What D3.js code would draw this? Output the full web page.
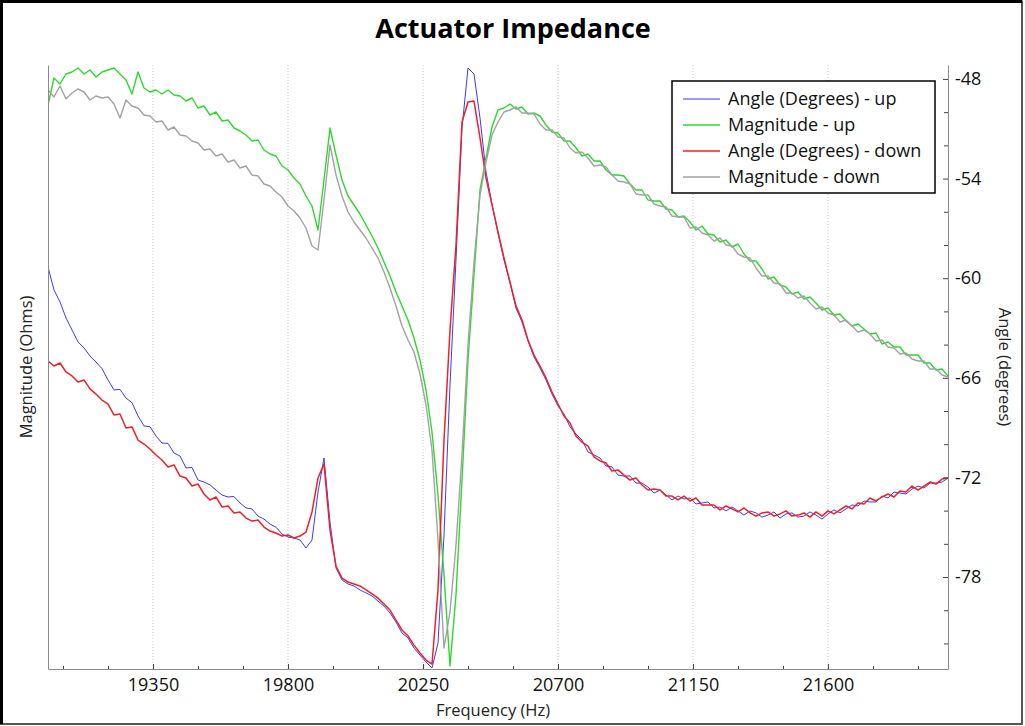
<!DOCTYPE html>
<html>
<head>
<meta charset="utf-8">
<script src="https://cdn.jsdelivr.net/npm/d3@7"></script>
<style>
    body { margin: 0; background: #fff; }
    svg { display: block; font-family: 'Open Sans', sans-serif; }
</style>
</head>
<body>
<svg id="chart" width="1025" height="726"></svg>
<script>
// Sweep frequencies (Hz), one sample every 20 Hz
const freqs = d3.range(19000, 22001, 20);

// Tick values
const freqTicks = [19350, 19800, 20250, 20700, 21150, 21600];
const freqMinor = [19050, 19200, 19500, 19650, 19950, 20100, 20400, 20550, 20850, 21000, 21300, 21450, 21750, 21900];
const angleTicks = [-48, -54, -60, -66, -72, -78];
const angleMinor = [-50, -52, -56, -58, -62, -64, -68, -70, -74, -76, -80, -82];

// Angle (degrees), sweep up
const angleUp = [
    -59.33, -60.71, -61.43, -62.40, -63.12, -63.84, -64.20, -64.69, -65.05, -65.45,
    -66.13, -66.73, -66.70, -67.22, -67.50, -68.30, -68.90, -68.95, -69.51, -69.93,
    -69.95, -70.53, -70.71, -71.43, -71.40, -72.16, -72.28, -72.45, -72.76, -73.06,
    -73.18, -73.15, -73.54, -73.84, -73.90, -74.33, -74.51, -74.81, -75.00, -75.41,
    -75.59, -75.65, -75.77, -76.25, -75.77, -72.88, -70.83, -74.69, -77.46, -78.18,
    -78.42, -78.54, -78.78, -78.96, -79.14, -79.45, -79.75, -80.17, -80.71, -81.37,
    -81.67, -82.28, -82.70, -83.12, -83.48, -81.98, -75.47, -66.43, -58.90, -50.95,
    -47.34, -47.70, -50.35, -53.60, -55.53, -57.28, -58.90, -60.29, -61.80, -62.64,
    -63.78, -64.75, -65.41, -66.13, -66.98, -67.70, -68.18, -68.96, -69.39, -69.75,
    -70.47, -70.65, -70.83, -71.31, -71.37, -71.86, -71.92, -71.92, -72.34, -72.34,
    -72.58, -72.94, -72.76, -73.06, -73.36, -73.12, -73.30, -73.24, -73.60, -73.54,
    -73.48, -73.84, -73.78, -74.02, -73.78, -74.02, -74.27, -74.02, -74.14, -74.39,
    -74.27, -74.08, -74.45, -74.20, -74.14, -74.39, -74.33, -74.08, -74.27, -74.51,
    -74.20, -73.96, -74.14, -73.90, -73.66, -73.72, -73.42, -73.48, -73.48, -73.12,
    -73.24, -72.88, -72.94, -73.00, -72.70, -72.52, -72.64, -72.34, -72.34, -72.28,
    -72.04
];

// Magnitude (Ohms), sweep up
const magnitudeUp = [
    56.4, 59.1, 58.5, 59.5, 59.7, 60.1, 59.5, 59.9, 59.2, 59.7,
    59.9, 60.1, 59.5, 58.9, 57.5, 59.7, 58.1, 57.7, 57.9, 57.5,
    57.9, 57.4, 57.3, 56.8, 57.1, 56.1, 56.3, 55.4, 55.7, 54.8,
    54.9, 54.1, 53.8, 53.4, 52.8, 52.9, 51.9, 51.5, 51.3, 50.3,
    49.9, 49.1, 48.5, 47.3, 46.3, 43.9, 48.9, 54.1, 51.4, 48.9,
    47.3, 46.4, 45.5, 44.4, 43.3, 42.1, 40.7, 39.3, 37.7, 36.3,
    34.9, 33.1, 30.9, 27.9, 23.7, 17.4, 9.4, 0.3, 7.4, 18.9,
    30.9, 39.4, 47.9, 51.1, 54.2, 55.9, 56.1, 56.5, 56.0, 56.2,
    55.5, 55.6, 55.3, 54.4, 53.7, 53.6, 52.8, 52.8, 52.1, 51.3,
    51.5, 50.8, 50.8, 49.9, 49.4, 49.4, 49.3, 48.5, 47.9, 47.9,
    46.9, 46.8, 46.8, 46.0, 45.9, 45.2, 45.3, 44.7, 43.9, 44.3,
    43.5, 43.4, 42.7, 42.9, 42.2, 42.5, 41.5, 40.8, 40.8, 40.0,
    39.0, 39.2, 38.4, 38.2, 37.5, 37.7, 37.0, 37.2, 36.6, 35.9,
    36.1, 35.4, 35.5, 34.8, 34.3, 34.5, 34.0, 33.5, 33.6, 32.5,
    32.7, 32.2, 32.2, 31.4, 31.4, 31.4, 30.6, 30.6, 29.9, 30.0,
    29.3
];

// Angle (degrees), sweep down
const angleDown = [
    -64.99, -65.29, -65.11, -65.65, -65.89, -66.25, -66.13, -66.67, -66.98, -67.34,
    -67.58, -68.24, -68.18, -69.02, -68.96, -69.75, -69.99, -70.29, -70.65, -70.95,
    -71.37, -71.25, -71.92, -72.04, -72.52, -72.40, -73.00, -73.36, -73.18, -73.78,
    -73.72, -74.14, -74.08, -74.45, -74.63, -74.57, -74.99, -75.23, -75.35, -75.53,
    -75.47, -75.65, -75.53, -75.29, -74.08, -72.04, -71.19, -75.17, -77.34, -78.06,
    -78.30, -78.42, -78.54, -78.78, -79.02, -79.27, -79.63, -79.99, -80.59, -81.19,
    -81.55, -82.10, -82.58, -83.00, -83.24, -78.78, -69.75, -63.12, -58.00, -50.59,
    -49.39, -49.33, -51.55, -53.96, -55.59, -57.22, -58.78, -60.23, -61.67, -62.52,
    -63.72, -64.63, -65.29, -66.01, -66.86, -67.58, -68.30, -68.72, -69.51, -69.87,
    -70.11, -70.77, -71.01, -71.13, -71.61, -71.55, -71.86, -72.16, -72.04, -72.46,
    -72.76, -72.70, -72.76, -73.12, -73.12, -73.36, -73.12, -73.42, -73.24, -73.66,
    -73.66, -73.66, -73.96, -73.72, -73.90, -74.08, -73.84, -74.14, -74.33, -74.14,
    -74.08, -74.33, -74.20, -74.02, -74.33, -74.27, -74.14, -74.39, -74.08, -74.33,
    -74.02, -74.20, -73.96, -73.72, -73.90, -73.54, -73.60, -73.24, -73.42, -73.18,
    -73.00, -73.18, -72.82, -72.88, -72.52, -72.76, -72.52, -72.28, -72.40, -72.10,
    -72.04
];

// Magnitude (Ohms), sweep down
const magnitudeDown = [
    57.9, 57.2, 58.3, 57.0, 57.6, 58.0, 57.7, 56.9, 57.3, 57.1,
    57.2, 56.5, 55.1, 56.9, 56.3, 56.1, 55.4, 55.3, 54.7, 54.8,
    53.9, 54.2, 53.4, 53.3, 52.8, 52.6, 51.9, 52.0, 51.3, 51.5,
    50.7, 50.9, 50.1, 50.3, 49.4, 49.3, 48.5, 48.3, 47.7, 47.2,
    46.3, 45.8, 45.1, 44.1, 42.3, 41.9, 46.9, 52.4, 49.4, 47.3,
    45.7, 44.7, 43.9, 43.1, 42.1, 41.1, 39.7, 38.1, 36.3, 34.3,
    32.9, 31.7, 29.5, 26.4, 21.9, 12.9, 2.1, 5.7, 12.4, 21.4,
    32.4, 40.7, 47.4, 50.7, 53.4, 54.7, 55.7, 55.9, 56.2, 55.6,
    55.6, 55.5, 54.5, 53.9, 53.9, 53.2, 53.1, 52.1, 51.6, 51.7,
    51.1, 50.3, 50.4, 50.2, 49.4, 48.8, 48.7, 48.5, 47.5, 47.4,
    47.4, 46.5, 46.3, 46.2, 45.3, 45.2, 45.2, 44.1, 44.2, 43.6,
    43.4, 42.8, 43.1, 42.4, 42.3, 41.5, 41.2, 41.1, 40.1, 39.3,
    39.3, 38.6, 38.5, 37.6, 37.6, 37.1, 37.3, 36.6, 36.0, 36.2,
    35.6, 35.4, 34.7, 34.9, 34.3, 33.7, 33.9, 33.5, 32.8, 32.9,
    32.2, 32.1, 31.5, 31.6, 31.0, 30.8, 30.8, 30.0, 30.0, 29.4,
    29.2
];

const svg = d3.select('#chart');

// Plot area
const plotLeft = 48, plotRight = 948, plotTop = 65, plotBottom = 669;

const x = d3.scaleLinear().domain([19000, 22000]).range([plotLeft, plotRight]);
const yAngle = d3.scaleLinear().domain([-83.54, -47.16]).range([plotBottom, plotTop]);
const yMag = d3.scaleLinear().domain([0, 60.4]).range([plotBottom, plotTop]);

// Outer frame
svg.append('rect')
    .attr('x', 1).attr('y', 1.5)
    .attr('width', 1021).attr('height', 722.5)
    .attr('fill', 'none')
    .attr('stroke', '#555')
    .attr('stroke-width', 2);
svg.append('path')
    .attr('d', 'M1.5,724V1.5H1022')
    .attr('fill', 'none')
    .attr('stroke', '#000')
    .attr('stroke-width', 3);

// Vertical grid lines
svg.append('g')
    .selectAll('line')
    .data(freqTicks)
    .join('line')
    .attr('x1', d => x(d)).attr('x2', d => x(d))
    .attr('y1', plotTop).attr('y2', plotBottom)
    .attr('stroke', '#c4c4c4')
    .attr('stroke-dasharray', '1,2');

svg.append('defs').append('clipPath')
    .attr('id', 'plot-clip')
    .append('rect')
    .attr('x', plotLeft).attr('y', plotTop)
    .attr('width', plotRight - plotLeft).attr('height', plotBottom - plotTop);

// Series
const series = [
    { name: 'Angle (Degrees) - up', values: angleUp, scale: yAngle, color: '#3b3bf5', width: 1 },
    { name: 'Magnitude - up', values: magnitudeUp, scale: yMag, color: '#2ed82e', width: 1.4 },
    { name: 'Angle (Degrees) - down', values: angleDown, scale: yAngle, color: '#ec2228', width: 1.5 },
    { name: 'Magnitude - down', values: magnitudeDown, scale: yMag, color: '#a2a2a2', width: 1.4 }
];

const lines = svg.append('g').attr('clip-path', 'url(#plot-clip)');
series.forEach(s => {
    const line = d3.line()
        .x((d, i) => x(freqs[i]))
        .y(d => s.scale(d));
    lines.append('path')
        .datum(s.values)
        .attr('d', line)
        .attr('fill', 'none')
        .attr('stroke', s.color)
        .attr('stroke-width', s.width)
        .attr('stroke-linejoin', 'round');
});

// Axes
const axisColor = '#8a8a8a';
function styleAxis(g) {
    g.select('.domain').attr('stroke', axisColor);
    g.selectAll('.tick line').attr('stroke', '#444');
    g.selectAll('.tick text')
        .attr('fill', '#111')
        .style('font-size', '18px')
        .style('font-family', "'Open Sans', sans-serif");
}

svg.append('g')
    .attr('transform', `translate(0,${plotBottom})`)
    .call(d3.axisBottom(x).tickValues(freqMinor).tickSize(-3).tickFormat(''))
    .call(g => g.select('.domain').remove())
    .call(styleAxis);

svg.append('g')
    .attr('transform', `translate(0,${plotBottom})`)
    .call(d3.axisBottom(x).tickValues(freqTicks).tickSizeInner(-5).tickSizeOuter(0)
        .tickPadding(9).tickFormat(d => String(d)))
    .call(styleAxis);

svg.append('g')
    .attr('transform', `translate(${plotRight},0)`)
    .call(d3.axisRight(yAngle).tickValues(angleMinor).tickSize(-4).tickFormat(''))
    .call(g => g.select('.domain').remove())
    .call(styleAxis);

svg.append('g')
    .attr('transform', `translate(${plotRight},0)`)
    .call(d3.axisRight(yAngle).tickValues(angleTicks).tickSizeInner(-5).tickSizeOuter(0)
        .tickPadding(7).tickFormat(d => String(d)))
    .call(styleAxis);

svg.append('g')
    .attr('transform', `translate(${plotLeft},0)`)
    .call(d3.axisLeft(yMag).tickValues([]).tickSizeOuter(0))
    .call(styleAxis);

// Title and axis labels
svg.append('text')
    .attr('x', 513)
    .attr('y', 38)
    .attr('text-anchor', 'middle')
    .style('font-size', '27px')
    .style('font-weight', 'bold')
    .attr('fill', '#000')
    .text('Actuator Impedance');

svg.append('text')
    .attr('x', 493)
    .attr('y', 716)
    .attr('text-anchor', 'middle')
    .style('font-size', '16.5px')
    .attr('fill', '#222')
    .text('Frequency (Hz)');

svg.append('text')
    .attr('transform', 'translate(32,367) rotate(-90)')
    .attr('text-anchor', 'middle')
    .style('font-size', '16.5px')
    .attr('fill', '#222')
    .text('Magnitude (Ohms)');

svg.append('text')
    .attr('transform', 'translate(999,367) rotate(90)')
    .attr('text-anchor', 'middle')
    .style('font-size', '16.5px')
    .attr('fill', '#222')
    .text('Angle (degrees)');

// Legend
const legend = svg.append('g').attr('transform', 'translate(672,81)');
legend.append('rect')
    .attr('width', 263).attr('height', 112)
    .attr('fill', '#fff')
    .attr('stroke', '#000')
    .attr('stroke-width', 1.5);

series.forEach((s, i) => {
    const item = legend.append('g')
        .attr('transform', `translate(0, ${18 + i * 26})`);
    item.append('line')
        .attr('x1', 11).attr('x2', 48)
        .attr('stroke', s.color)
        .attr('stroke-width', s.width);
    item.append('text')
        .attr('x', 56)
        .attr('dy', '0.35em')
        .style('font-size', '18px')
        .attr('fill', '#111')
        .text(s.name);
});
</script>
</body>
</html>
